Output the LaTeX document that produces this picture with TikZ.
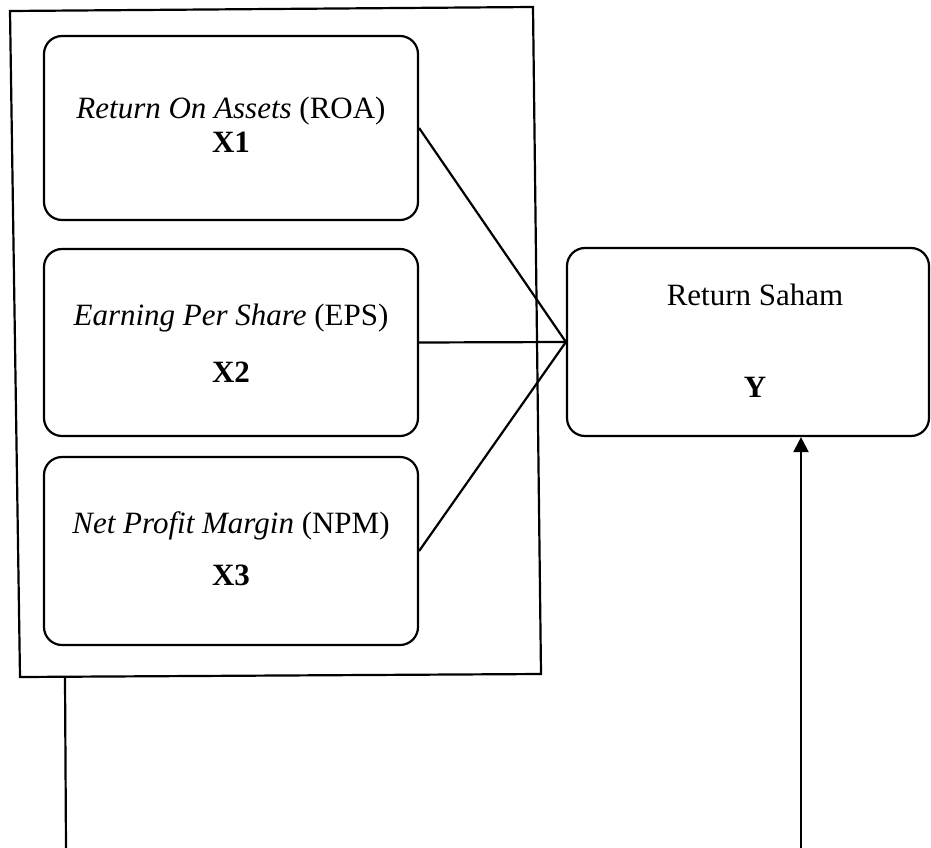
\documentclass[tikz,border=0pt]{standalone}
\usepackage{fontspec}
\setmainfont{Liberation Serif}
\usetikzlibrary{arrows.meta}
\begin{document}
\begin{tikzpicture}[x=1pt,y=-1pt,
  box/.style={draw, line width=2.2pt, rounded corners=18pt, inner sep=0pt},
  lbl/.style={font=\fontsize{31}{37}\selectfont, anchor=base, inner sep=0pt},
  conn/.style={line width=2.2pt}]
\useasboundingbox (0,0) rectangle (931,848);
% outer frame
\draw[line width=2.2pt] (10,11) -- (533,7) -- (541,674) -- (20,677) -- cycle;
% boxes
\node[box, minimum width=374pt, minimum height=184pt] (x1) at (231,128) {};
\node[box, minimum width=374pt, minimum height=187pt] (x2) at (231,342.5) {};
\node[box, minimum width=374pt, minimum height=188pt] (x3) at (231,551) {};
\node[box, minimum width=362pt, minimum height=188pt] (r) at (748,342) {};
% texts
\node[lbl] (t1) at (231,118) {\textit{Return On Assets} (ROA)};
\node[lbl] (t1b) at (231,153) {\textbf{X1}};
\node[lbl] (t2) at (231,325) {\textit{Earning Per Share} (EPS)};
\node[lbl] (t2b) at (231,382) {\textbf{X2}};
\node[lbl] (t3) at (231,533) {\textit{Net Profit Margin} (NPM)};
\node[lbl] (t3b) at (231,585) {\textbf{X3}};
\node[lbl] (tr) at (755,305) {Return Saham};
\node[lbl] (trb) at (755,397) {\textbf{Y}};
% connectors
\draw[conn] (x1.east) -- (r.west);
\draw[conn] (x2.east) -- (r.west);
\draw[conn] (x3.east) -- (r.west);
% lines to bottom
\coordinate (gtop) at (65,678);
\coordinate (gend) at (66,848);
\draw[conn] (gtop) -- (gend);
\coordinate (yend) at (801,848);
\draw[conn, -{Triangle[length=15pt,width=15pt]}] (yend) -- (yend |- r.south);
\end{tikzpicture}
\end{document}
